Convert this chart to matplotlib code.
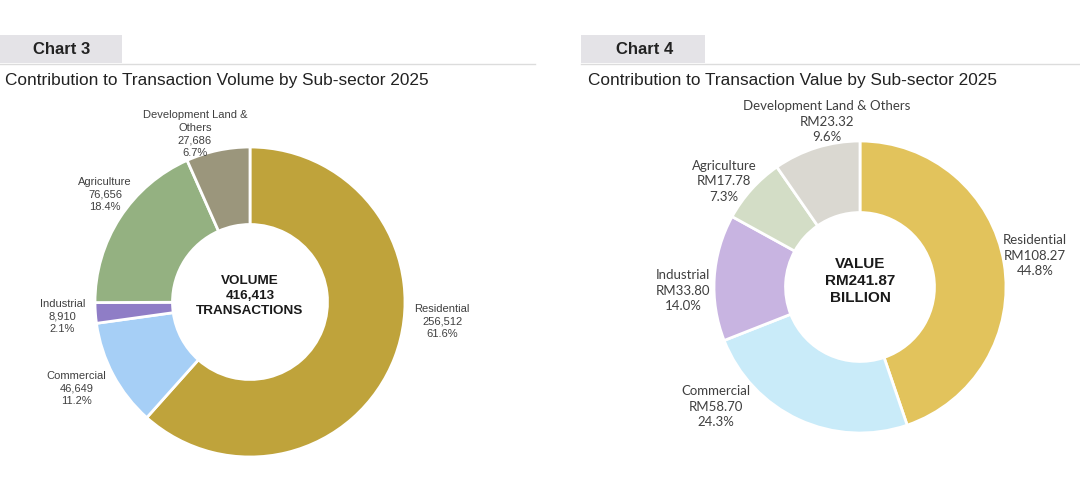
import matplotlib.pyplot as plt
from matplotlib.patches import Rectangle

# datos de los dos graficos
sectores = ["Residential", "Commercial", "Industrial", "Agriculture", "Development Land &\nOthers"]
sectores_valor = ["Residential", "Commercial", "Industrial", "Agriculture", "Development Land & Others"]
volumen = [256512, 46649, 8910, 76656, 27686]
volumen_pct = [61.6, 11.2, 2.1, 18.4, 6.7]
valor = [108.27, 58.70, 33.80, 17.78, 23.32]
valor_pct = [44.8, 24.3, 14.0, 7.3, 9.6]

colores_vol = ["#BFA33B", "#A6CFF6", "#8F7DC6", "#94B181", "#9B967C"]
colores_val = ["#E2C35C", "#C9EBF9", "#C8B4E1", "#D3DDC6", "#DAD8D1"]

# posiciones de las etiquetas (en radios del donut)
pos_vol = [(1.24, -0.12), (-1.12, -0.55), (-1.21, -0.085), (-0.935, 0.70), (-0.355, 1.09)]
pos_val = [(1.20, 0.22), (-0.985, -0.815), (-1.21, -0.02), (-0.93, 0.73), (-0.226, 1.14)]

W, H = 1080, 489
fig = plt.figure(figsize=(W / 100, H / 100), dpi=100)
fig.patch.set_facecolor("white")

def px_axes(x0, y0, x1, y1):
    # y en pixeles desde arriba
    return fig.add_axes([x0 / W, 1 - y1 / H, (x1 - x0) / W, (y1 - y0) / H])

# encabezados
fondo = fig.add_axes([0, 0, 1, 1])
fondo.set_xlim(0, W)
fondo.set_ylim(H, 0)
fondo.axis("off")
for x0, x1, lx1, nombre, titulo, tx in [
    (0, 122, 535, "Chart 3", "Contribution to Transaction Volume by Sub-sector 2025", 5),
    (581, 705, 1080, "Chart 4", "Contribution to Transaction Value by Sub-sector 2025", 588),
]:
    fondo.add_patch(Rectangle((x0, 36), x1 - x0, 28, color="#E4E3E7", lw=0))
    fondo.plot([x0, lx1], [65, 65], color="#DCDCDC", lw=1)
    fondo.text(x0 + 33 if x0 == 0 else x0 + 35, 50, nombre, fontsize=12, fontweight="bold",
               family="Liberation Sans", color="#222222", va="center", ha="left")
    fondo.text(tx, 80, titulo, fontsize=12.4, family="Liberation Sans", color="#222222",
               va="center", ha="left")

# grafico 3: volumen
cx, cy, R = 250, 303, 155
ax1 = px_axes(0, 95, 540, 489)
ax1.pie(volumen, colors=colores_vol, startangle=90, counterclock=False, radius=1,
        wedgeprops=dict(width=0.5, edgecolor="white", linewidth=2))
ax1.set_xlim((0 - cx) / R, (540 - cx) / R)
ax1.set_ylim((cy - 489) / R, (cy - 95) / R)
ax1.set_aspect("auto")
ax1.axis("off")
for nom, v, p, (x, y) in zip(sectores, volumen, volumen_pct, pos_vol):
    ax1.text(x, y, f"{nom}\n{v:,}\n{p}%", ha="center", va="center", fontsize=8,
             family="Liberation Sans", color="#404040", linespacing=1.3)
ax1.text(0, 0.045, f"VOLUME\n{sum(volumen):,}\nTRANSACTIONS", ha="center", va="center",
         fontsize=9.7, fontweight="bold", family="Liberation Sans", color="#1a1a1a",
         linespacing=1.3)

# grafico 4: valor
cx, cy, R = 860, 288, 146
ax2 = px_axes(540, 95, 1080, 489)
ax2.pie(valor, colors=colores_val, startangle=90, counterclock=False, radius=1,
        wedgeprops=dict(width=0.49, edgecolor="white", linewidth=2))
ax2.set_xlim((540 - cx) / R, (1080 - cx) / R)
ax2.set_ylim((cy - 489) / R, (cy - 95) / R)
ax2.set_aspect("auto")
ax2.axis("off")
for nom, v, p, (x, y) in zip(sectores_valor, valor, valor_pct, pos_val):
    ax2.text(x, y, f"{nom}\nRM{v:.2f}\n{p}%", ha="center", va="center", fontsize=9.5,
             family="Lato", color="#404040", linespacing=1.35)
ax2.text(0, 0.048, f"VALUE\nRM{sum(valor):.2f}\nBILLION", ha="center", va="center",
         fontsize=11, fontweight="bold", family="Liberation Sans", color="#1a1a1a",
         linespacing=1.25)

fig.savefig("out.png", dpi=100)
